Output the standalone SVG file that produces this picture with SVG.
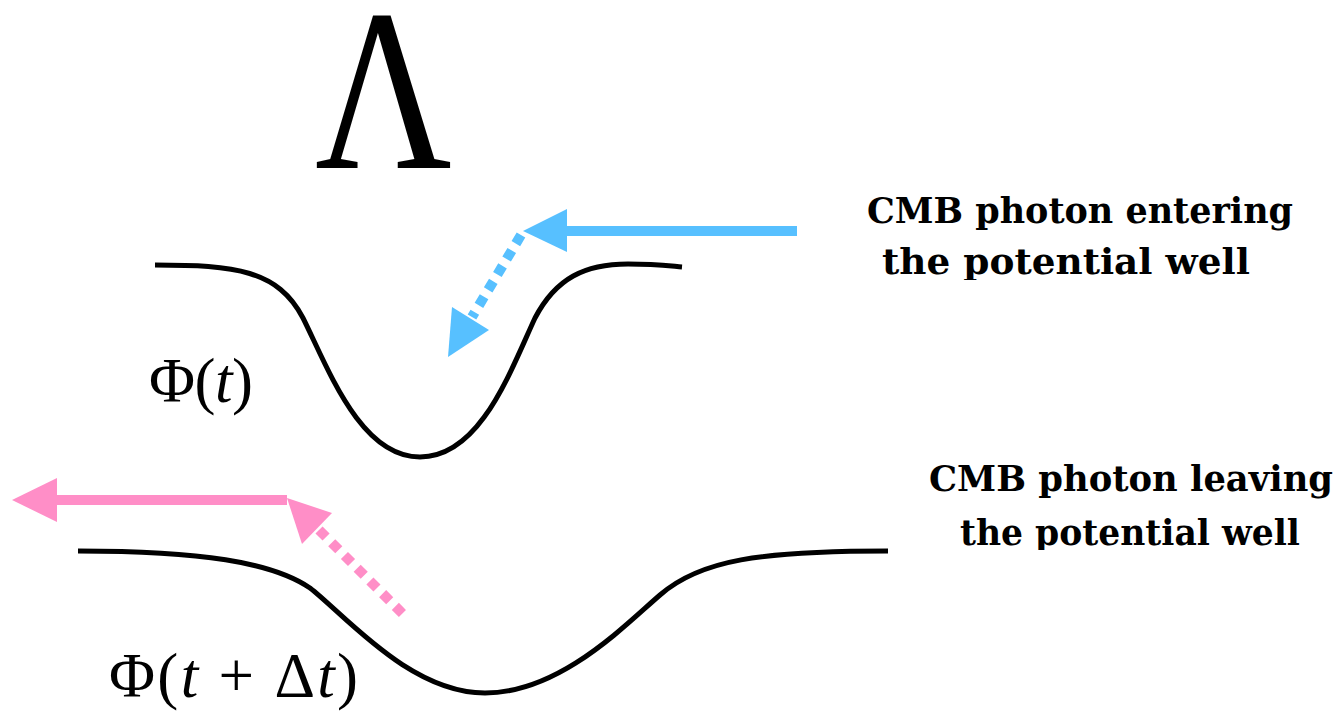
<svg xmlns="http://www.w3.org/2000/svg" width="1341" height="712" viewBox="0 0 1341 712">
<style>
.curve{fill:none;stroke:#000;stroke-width:5;stroke-linecap:butt}
.blue{stroke:#57C0FF;stroke-width:10;fill:none}
.pink{stroke:#FF8EC7;stroke-width:10;fill:none}
.dot{stroke-dasharray:10 8}
.bh{fill:#57C0FF}
.ph{fill:#FF8EC7}
.lab{font-family:"DejaVu Serif","Liberation Serif",serif;font-weight:bold;font-size:35px;fill:#000}
.math{font-family:"Liberation Serif","DejaVu Serif",serif;fill:#000}
</style>
<defs>
<clipPath id="clipTop"><rect x="0" y="0" width="1341" height="280"/></clipPath>
<clipPath id="clipBot"><rect x="0" y="0" width="1341" height="550"/></clipPath>
</defs>
<rect width="1341" height="712" fill="#fff"/>
<g id="lambda">
<text class="math" x="315" y="168" font-size="232" textLength="137" lengthAdjust="spacingAndGlyphs">Λ</text>
</g>
<g id="well-t">
<path class="curve" d="M155,265 C235,265 278,270 303,318 C328,368 360,457 420,457 C480,457 510,372 535,318 C556,278 585,264 628,264 C655,264 670,266 682,267"/>
<text class="math" x="149" y="402" font-size="63" textLength="104" lengthAdjust="spacing">Φ(<tspan font-style="italic">t</tspan>)</text>
</g>
<g id="well-tdt">
<path class="curve" d="M78,551 C200,551 272,562 310,588 C345,615 410,693 485,693 C560,693 625,625 660,595 C700,560 760,551 888,551"/>
<text class="math" x="109" y="697" font-size="63" textLength="249" lengthAdjust="spacing">Φ(<tspan font-style="italic">t</tspan> + Δ<tspan font-style="italic">t</tspan>)</text>
</g>
<g id="label-enter" clip-path="url(#clipTop)">
<text class="lab" x="867" y="223" textLength="426" lengthAdjust="spacingAndGlyphs">CMB photon entering</text>
<text class="lab" x="882" y="274" textLength="368" lengthAdjust="spacingAndGlyphs">the potential well</text>
</g>
<g id="label-leave" clip-path="url(#clipBot)">
<text class="lab" x="929" y="491" textLength="404" lengthAdjust="spacingAndGlyphs">CMB photon leaving</text>
<text class="lab" x="960" y="545" textLength="340" lengthAdjust="spacingAndGlyphs">the potential well</text>
</g>
<g id="connectors">
<line class="blue" x1="797" y1="231" x2="565" y2="231"/>
<polygon class="bh" points="523,231 567,209 567,252"/>
<line class="blue dot" x1="521" y1="235" x2="472" y2="317"/>
<polygon class="bh" points="448,357 452,307 489,330"/>
<line class="pink" x1="287" y1="500" x2="55" y2="500"/>
<polygon class="ph" points="12,500 57,478 57,522"/>
<polygon class="ph" points="287,498 332,513 302,544"/>
<line class="pink dot" x1="319" y1="530" x2="405" y2="616"/>
</g>
</svg>
